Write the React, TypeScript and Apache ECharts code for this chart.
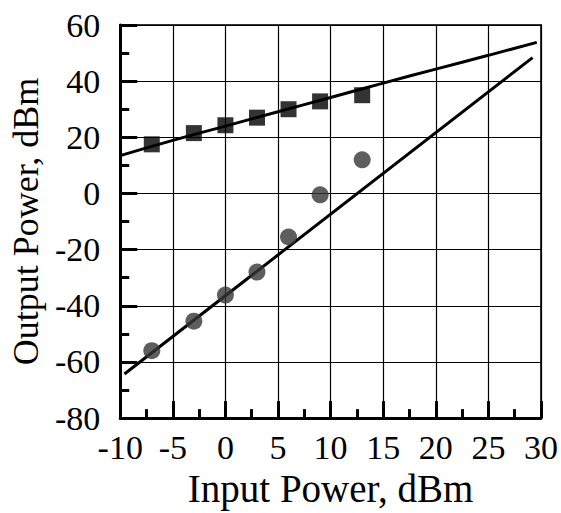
import React, { useEffect, useRef } from "react";
import * as echarts from "echarts";

const inputPower = [-7, -3, 0, 3, 6, 9, 13];
const squareOutput = [17.5, 21.5, 24.3, 27, 30, 32.8, 35];
const circleOutput = [-56, -45.5, -36.2, -28, -15.5, -0.5, 12];
const upperFitX = [-10, -5, 0, 5, 10, 15, 20, 25, 29.6];
const upperFitY = [13.5, 18.9, 24, 29.1, 34.2, 39.3, 44.3, 49.2, 53.8];
const lowerFitX = [-9.6, 29.2];
const lowerFitY = [-64.3, 48.4];

const FONT = "Liberation Serif";

export default function App() {
  const ref = useRef<HTMLDivElement>(null);
  useEffect(() => {
    document.body.style.margin = "0";
    if (!ref.current) return;
    const chart = echarts.init(ref.current, null, { renderer: "svg" });
    chart.setOption({
      animation: false,
      backgroundColor: "#fff",
      textStyle: { fontFamily: FONT },
      grid: {
        left: 117,
        right: 19,
        top: 25,
        bottom: 91,
        show: true,
        borderColor: "#333",
        borderWidth: 2,
        containLabel: false,
      },
      xAxis: {
        type: "value",
        min: -10,
        max: 30,
        interval: 5,
        name: "Input Power, dBm",
        nameLocation: "middle",
        nameGap: 47,
        nameTextStyle: { fontFamily: FONT, fontSize: 39, color: "#000" },
        axisLine: { show: true, onZero: false, lineStyle: { color: "#000", width: 3 } },
        axisTick: { show: true, inside: true, length: 17, lineStyle: { color: "#000", width: 3 } },
        minorTick: { show: true, splitNumber: 2, length: 9, lineStyle: { color: "#000", width: 3 } },
        splitLine: { show: true, lineStyle: { color: "#000", width: 1.2 } },
        axisLabel: { fontFamily: FONT, fontSize: 34, color: "#000", margin: 12 },
      },
      yAxis: {
        type: "value",
        min: -80,
        max: 60,
        interval: 20,
        name: "Output Power, dBm",
        nameLocation: "middle",
        nameGap: 62,
        nameTextStyle: { fontFamily: FONT, fontSize: 36, color: "#000" },
        axisLine: { show: true, onZero: false, lineStyle: { color: "#000", width: 3 } },
        axisTick: { show: true, inside: true, length: 17, lineStyle: { color: "#000", width: 3 } },
        minorTick: { show: true, splitNumber: 2, length: 9, lineStyle: { color: "#000", width: 3 } },
        splitLine: { show: true, lineStyle: { color: "#000", width: 1.2 } },
        axisLabel: { fontFamily: FONT, fontSize: 34, color: "#000", margin: 20 },
      },
      series: [
        {
          type: "line",
          data: upperFitX.map((x, i) => [x, upperFitY[i]]),
          showSymbol: false,
          smooth: true,
          lineStyle: { color: "#000", width: 3 },
          z: 3,
        },
        {
          type: "line",
          data: lowerFitX.map((x, i) => [x, lowerFitY[i]]),
          showSymbol: false,
          lineStyle: { color: "#000", width: 3 },
          z: 3,
        },
        {
          type: "scatter",
          data: inputPower.map((x, i) => [x, squareOutput[i]]),
          symbol: "rect",
          symbolSize: 16,
          itemStyle: { color: "#000" },
          z: 4,
        },
        {
          type: "scatter",
          data: inputPower.map((x, i) => [x, circleOutput[i]]),
          symbol: "circle",
          symbolSize: 17,
          itemStyle: { color: "#363636" },
          z: 4,
        },
      ],
    });
    return () => chart.dispose();
  }, []);
  return (
    <div
      ref={ref}
      style={{ position: "fixed", left: 0, top: 0, width: 561, height: 513 }}
    />
  );
}
